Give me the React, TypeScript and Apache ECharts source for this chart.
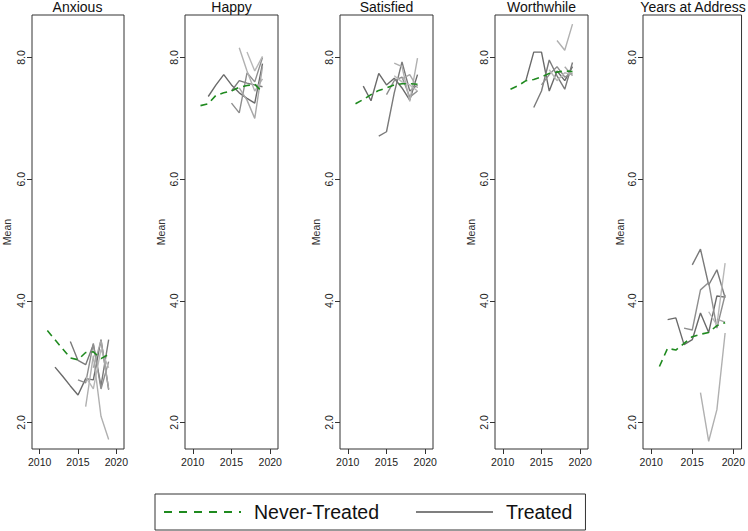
import React, { useEffect, useRef } from "react";
import * as echarts from "echarts";

const panelTitles = ["Anxious", "Happy", "Satisfied", "Worthwhile", "Years at Address"];
const xTicks = [2010, 2015, 2020];
const yTicks = [2, 4, 6, 8];
const neverYears = [2011, 2012, 2013, 2014, 2015, 2016, 2017, 2018, 2019];

const anxiousNever = [3.51, 3.36, 3.21, 3.06, 3.03, 3.15, 3.16, 3.05, 3.12];
const happyNever = [7.21, 7.24, 7.38, 7.42, 7.45, 7.51, 7.54, 7.56, 7.43];
const satisfiedNever = [7.24, 7.31, 7.39, 7.46, 7.5, 7.55, 7.57, 7.57, 7.56];
const worthwhileNever = [7.48, 7.54, 7.62, 7.64, 7.68, 7.74, 7.76, 7.78, 7.77];
const yearsNever = [2.92, 3.22, 3.19, 3.3, 3.41, 3.45, 3.48, 3.59, 3.64];

const anxiousTreated: number[][][] = [
  [[2012, 2.91], [2013, 2.76], [2014, 2.6], [2015, 2.45], [2016, 2.72], [2017, 2.7], [2018, 3.36], [2019, 2.54]],
  [[2014, 3.33], [2015, 3.02], [2016, 2.95], [2017, 3.28], [2018, 2.6], [2019, 3.36]],
  [[2015, 2.7], [2016, 2.65], [2017, 3.3], [2018, 2.55], [2019, 3.0]],
  [[2016, 2.26], [2017, 3.1], [2018, 2.1], [2019, 1.72]],
  [[2016, 2.75], [2017, 2.55], [2018, 3.2], [2019, 2.9]],
  [[2017, 2.9], [2018, 3.35], [2019, 2.55]],
];
const happyTreated: number[][][] = [
  [[2012, 7.36], [2013, 7.55], [2014, 7.72], [2015, 7.55], [2016, 7.42], [2017, 7.33], [2018, 7.25], [2019, 7.9]],
  [[2015, 7.45], [2016, 7.62], [2017, 7.58], [2018, 7.55], [2019, 7.52]],
  [[2015, 7.25], [2016, 7.09], [2017, 7.75], [2018, 7.6], [2019, 8.0]],
  [[2016, 8.16], [2017, 7.78], [2018, 7.45], [2019, 7.65]],
  [[2017, 8.09], [2018, 7.78], [2019, 8.02]],
  [[2016, 7.5], [2017, 7.3], [2018, 7.0], [2019, 7.85]],
];
const satisfiedTreated: number[][][] = [
  [[2012, 7.53], [2013, 7.29], [2014, 7.74], [2015, 7.55], [2016, 7.66], [2017, 7.5], [2018, 7.3], [2019, 7.72]],
  [[2014, 6.71], [2015, 6.78], [2016, 7.42], [2017, 7.93], [2018, 7.45], [2019, 7.55]],
  [[2015, 7.39], [2016, 7.62], [2017, 7.68], [2018, 7.35], [2019, 7.45]],
  [[2016, 7.91], [2017, 7.85], [2018, 7.28], [2019, 7.99]],
  [[2016, 7.7], [2017, 7.6], [2018, 7.55], [2019, 7.45]],
  [[2017, 7.65], [2018, 7.72], [2019, 7.5]],
];
const worthwhileTreated: number[][][] = [
  [[2013, 7.63], [2014, 8.09], [2015, 8.09], [2016, 7.45], [2017, 7.78], [2018, 7.62], [2019, 7.85]],
  [[2014, 7.18], [2015, 7.45], [2016, 7.96], [2017, 7.7], [2018, 7.48], [2019, 7.92]],
  [[2015, 7.55], [2016, 7.72], [2017, 7.85], [2018, 7.68], [2019, 7.75]],
  [[2017, 8.28], [2018, 8.12], [2019, 8.55]],
  [[2016, 7.8], [2017, 7.62], [2018, 7.75], [2019, 7.72]],
  [[2018, 7.85], [2019, 7.7]],
];
const yearsTreated: number[][][] = [
  [[2012, 3.69], [2013, 3.72], [2014, 3.28], [2015, 3.36], [2016, 3.8], [2017, 3.48], [2018, 4.08], [2019, 4.06]],
  [[2015, 4.59], [2016, 4.85], [2017, 4.26], [2018, 4.51], [2019, 4.05]],
  [[2014, 3.55], [2015, 3.52], [2016, 4.18], [2017, 4.3], [2018, 3.55], [2019, 4.1]],
  [[2016, 2.49], [2017, 1.69], [2018, 2.21], [2019, 3.47]],
  [[2017, 3.82], [2018, 3.6], [2019, 4.62]],
  [[2018, 3.7], [2019, 3.65]],
];

const neverSets = [anxiousNever, happyNever, satisfiedNever, worthwhileNever, yearsNever];
const treatedSets = [anxiousTreated, happyTreated, satisfiedTreated, worthwhileTreated, yearsTreated];

const FONT = "Liberation Sans, Arial, sans-serif";
const shades = ["#6a6a6a", "#7a7a7a", "#8e8e8e", "#b0b0b0", "#b8b8b8", "#a8a8a8"];
const GREEN = "#1f8a1f";

export default function App() {
  const ref = useRef<HTMLDivElement>(null);
  useEffect(() => {
    if (!ref.current) return;
    const chart = echarts.init(ref.current, undefined, { renderer: "svg" });
    const lefts = [31, 185, 340, 495, 643];
    const widths = [93, 93, 93, 93, 100];
    const nameGaps = [20, 19, 19, 19, 15];
    const top = 15;
    const height = 434;

    const grid = lefts.map((l, i) => ({
      left: l, top, width: widths[i], height,
      show: true, borderColor: "#333", borderWidth: 1, backgroundColor: "#fff",
    }));
    const xAxis = lefts.map((_, i) => ({
      type: "value", gridIndex: i, min: 2009, max: 2021,
      splitLine: { show: false },
      axisLine: { show: false },
      axisTick: { show: true, length: 5, lineStyle: { color: "#333" }, customValues: xTicks },
      axisLabel: {
        show: true, customValues: xTicks, fontSize: 10.5, color: "#222", fontFamily: FONT, margin: 7,
        formatter: (v: number) => String(Math.round(v)),
      },
    }));
    const yAxis = lefts.map((_, i) => ({
      type: "value", gridIndex: i, min: 1.563, max: 8.7,
      name: "Mean", nameLocation: "middle", nameGap: nameGaps[i],
      nameTextStyle: { fontSize: 10.5, color: "#333", fontFamily: FONT },
      splitLine: { show: false },
      axisLine: { show: false },
      axisTick: { show: true, length: 5, lineStyle: { color: "#333" }, customValues: yTicks },
      axisLabel: {
        show: true, customValues: yTicks, rotate: 90, fontSize: 10.5, color: "#222", fontFamily: FONT, margin: 6,
        formatter: (v: number) => v.toFixed(1),
      },
    }));

    const series: any[] = [];
    neverSets.forEach((vals, i) => {
      treatedSets[i].forEach((line, j) => {
        series.push({
          type: "line", name: "Treated", xAxisIndex: i, yAxisIndex: i,
          data: line, symbol: "none", silent: true,
          lineStyle: { color: shades[j], width: 1.4 },
          itemStyle: { color: shades[j] },
        });
      });
      series.push({
        type: "line", name: "Never-Treated", xAxisIndex: i, yAxisIndex: i,
        data: neverYears.map((y, k) => [y, vals[k]]), symbol: "none", silent: true, z: 3,
        lineStyle: { color: GREEN, width: 1.6, type: [7, 5] },
        itemStyle: { color: GREEN },
      });
    });

    const graphic = panelTitles.map((t, i) => ({
      type: "text", x: lefts[i] + widths[i] / 2, y: 0,
      style: { text: t, fill: "#111", fontSize: 14, fontFamily: FONT, align: "center", verticalAlign: "top", textAlign: "center", textVerticalAlign: "top" },
    }));

    chart.setOption({
      animation: false,
      backgroundColor: "#fff",
      grid, xAxis, yAxis, series, graphic,
      legend: {
        left: 155, top: 494, orient: "horizontal",
        padding: [8, 13, 8, 8], itemGap: 36, itemWidth: 77, itemHeight: 14,
        borderColor: "#333", borderWidth: 1, selectedMode: false,
        textStyle: { fontSize: 19.5, color: "#111", fontFamily: FONT, padding: [0, 0, 0, 8] },
        itemStyle: { opacity: 0 },
        data: [
          { name: "Never-Treated", lineStyle: { color: GREEN, width: 2, type: [8, 7] }, itemStyle: { opacity: 0 } },
          { name: "Treated", lineStyle: { color: "#7f7f7f", width: 2, type: "solid" }, itemStyle: { opacity: 0 } },
        ],
      },
    });
    return () => chart.dispose();
  }, []);
  return <div ref={ref} style={{ position: "absolute", left: 0, top: 0, width: 748, height: 531 }} />;
}
